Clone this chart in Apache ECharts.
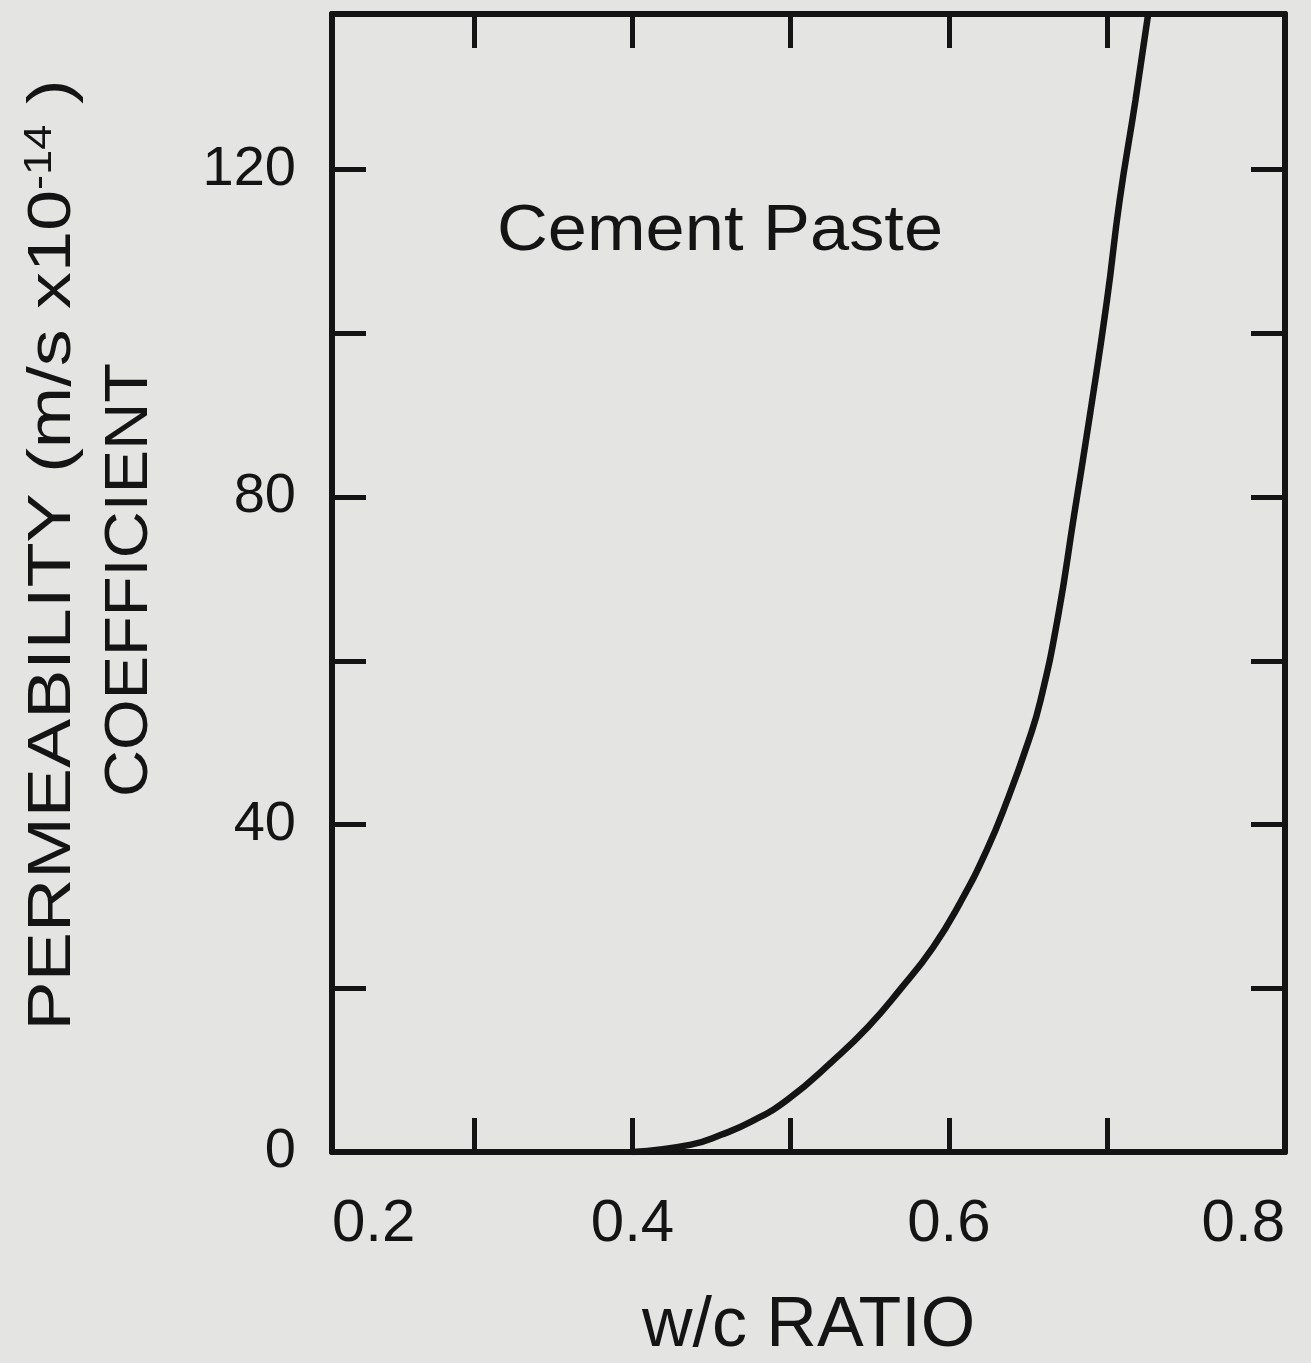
<!DOCTYPE html>
<html>
<head>
<meta charset="utf-8">
<script src="https://cdn.jsdelivr.net/npm/echarts@6/dist/echarts.min.js"></script>
<style>
  html, body { margin: 0; padding: 0; background: #e4e4e2; }
  #main { width: 1311px; height: 1363px; }
</style>
</head>
<body>
<div id="main"></div>
<script>
// w/c ratio vs permeability coefficient
const wcRatio = [0.400, 0.437, 0.456, 0.475, 0.498, 0.527, 0.549, 0.569, 0.590, 0.607, 0.624,
                 0.637, 0.650, 0.658, 0.669, 0.679, 0.689, 0.700, 0.708, 0.718, 0.726];
const permeability = [0, 0.9, 2.1, 3.7, 6.4, 11.2, 15.3, 19.8, 25.0, 30.4, 36.9,
                      43.0, 50.0, 55.2, 65.4, 77.6, 89.8, 104.1, 116.3, 128.5, 139];

// axes
const xMin = 0.21, xMax = 0.8125;
const xTicks = [0.3, 0.4, 0.5, 0.6, 0.7];
const xLabels = [xMin, 0.4, 0.6, xMax];
const yMin = 0, yMax = 139;
const yTicks = [0, 20, 40, 60, 80, 100, 120];
const yLabels = [0, 40, 80, 120];

const ink = '#141414';
const font = 'Liberation Sans, Arial, Helvetica, sans-serif';

const chart = echarts.init(document.getElementById('main'));

const frameLine = { show: true, onZero: false, lineStyle: { color: ink, width: 6 } };
const tickStyle = { show: true, inside: true, length: 34, lineStyle: { color: ink, width: 5 } };

chart.setOption({
    backgroundColor: '#e4e4e2',
    animation: false,
    grid: { left: 332, right: 26, top: 14, bottom: 211, outerBoundsMode: 'none' },
    xAxis: [{
        type: 'value',
        position: 'bottom',
        min: xMin,
        max: xMax,
        axisLine: frameLine,
        axisTick: Object.assign({ customValues: xTicks }, tickStyle),
        axisLabel: {
            customValues: xLabels,
            showMinLabel: true,
            showMaxLabel: true,
            alignMinLabel: 'left',
            alignMaxLabel: 'right',
            margin: 42,
            color: ink,
            fontSize: 60,
            fontFamily: font,
            formatter: v => v.toFixed(1)
        },
        splitLine: { show: false },
        name: 'w/c RATIO',
        nameLocation: 'middle',
        nameGap: 140,
        nameTextStyle: { color: ink, fontSize: 70, fontFamily: font }
    }, {
        type: 'value',
        position: 'top',
        min: xMin,
        max: xMax,
        axisLine: frameLine,
        axisTick: Object.assign({ customValues: xTicks }, tickStyle),
        axisLabel: { show: false },
        splitLine: { show: false }
    }],
    yAxis: [{
        type: 'value',
        position: 'left',
        min: yMin,
        max: yMax,
        axisLine: frameLine,
        axisTick: Object.assign({ customValues: yTicks }, tickStyle),
        axisLabel: {
            customValues: yLabels,
            margin: 36,
            color: ink,
            fontSize: 56,
            fontFamily: font
        },
        splitLine: { show: false }
    }, {
        type: 'value',
        position: 'right',
        min: yMin,
        max: yMax,
        axisLine: frameLine,
        axisTick: Object.assign({ customValues: yTicks }, tickStyle),
        axisLabel: { show: false },
        splitLine: { show: false }
    }],
    graphic: [{
        type: 'text',
        x: 53,
        y: 555,
        rotation: Math.PI / 2,
        scaleX: 1.19,
        style: {
            text: 'PERMEABILITY (m/s x10{sup|-14} )',
            fill: ink,
            fontSize: 62,
            fontFamily: font,
            align: 'center',
            verticalAlign: 'middle',
            rich: {
                sup: { fontSize: 38, fontFamily: font, fill: ink, verticalAlign: 'top', lineHeight: 62 }
            }
        }
    }, {
        type: 'text',
        x: 130,
        y: 580,
        rotation: Math.PI / 2,
        scaleX: 1.05,
        style: {
            text: 'COEFFICIENT',
            fill: ink,
            fontSize: 62,
            fontFamily: font,
            align: 'center',
            verticalAlign: 'middle'
        }
    }, {
        type: 'text',
        x: 720,
        y: 232,
        scaleX: 1.1,
        style: {
            text: 'Cement Paste',
            fill: ink,
            fontSize: 64,
            fontFamily: font,
            align: 'center',
            verticalAlign: 'middle'
        }
    }],
    series: [{
        type: 'line',
        xAxisIndex: 0,
        yAxisIndex: 0,
        data: wcRatio.map((x, i) => [x, permeability[i]]),
        showSymbol: false,
        smooth: 0.5,
        lineStyle: { color: ink, width: 6.5 }
    }]
});
</script>
</body>
</html>
